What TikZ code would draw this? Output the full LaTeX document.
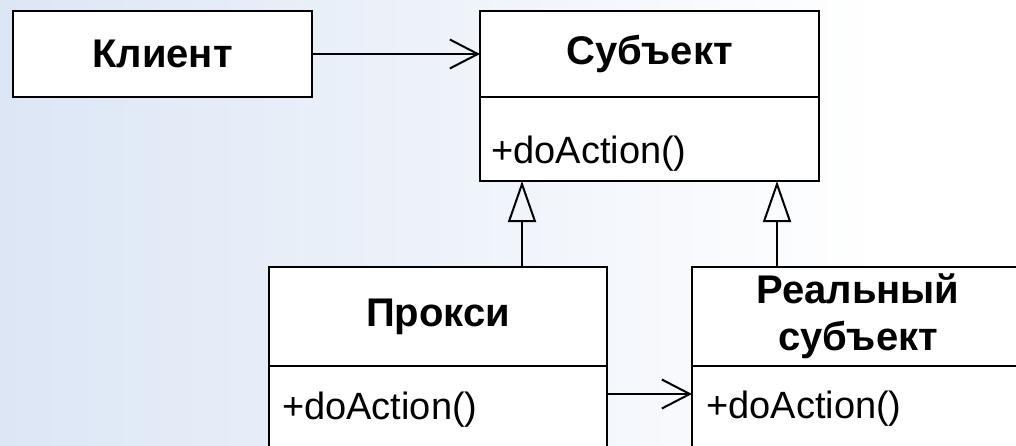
\documentclass[tikz,border=0pt]{standalone}
\usepackage{fontspec}
\setmainfont{Liberation Sans}
\usetikzlibrary{arrows.meta}
\definecolor{bgblue}{HTML}{DCE6F5}
\tikzset{
  box/.style={draw=black, line width=2pt, fill=white, inner sep=0pt, outer sep=0pt, anchor=north west},
  title/.style={font=\fontsize{40}{49}\selectfont\bfseries, align=center},
  oper/.style={font=\fontsize{38}{42}\selectfont, anchor=base west, inner sep=0pt},
  assoc/.style={line width=2pt, -{Straight Barb[length=28pt,width=29pt,line width=2pt]}},
  gen/.style={line width=2pt, -{Triangle[open,length=41pt,width=28pt,line width=2pt]}}
}
\begin{document}
\begin{tikzpicture}[x=1pt,y=-1pt]
\useasboundingbox (0,0) rectangle (1016,445);
\begin{scope}
\clip (0,0) rectangle (1016,445);
\shade[left color=bgblue, right color=white] (0,0) rectangle (880,445);
\fill[white] (880,0) rectangle (1016,445);

% Client
\node[box, title, minimum width=299pt, minimum height=86pt] (client) at (13,11) {Клиент};

% Subject
\node[box, title, minimum width=339pt, minimum height=86pt] (subjhead) at (480,11) {Субъект};
\node[box, minimum width=339pt, minimum height=84pt] (subjbody) at (480,97) {};
\node[oper] (subjop) at (491,163) {+doAction()};

% Proxy
\node[box, title, minimum width=338pt, minimum height=99pt] (proxyhead) at (269,267) {Прокси};
\node[box, minimum width=338pt, minimum height=100pt] (proxybody) at (269,366) {};
\node[oper] (proxyop) at (282,419) {+doAction()};

% Real subject
\node[box, title, minimum width=332pt, minimum height=99pt] (realhead) at (692,267) {Реальный\\[-2pt]субъект};
\node[box, minimum width=332pt, minimum height=100pt] (realbody) at (692,366) {};
\node[oper] (realop) at (706,418) {+doAction()};

% helper coordinates
\coordinate (gx1) at (522,0);
\coordinate (gx2) at (777,0);
\coordinate (ay) at (0,394);

% connectors
\draw[assoc] (client.east) -- (subjhead.west);
\draw[gen] (proxyhead.north -| gx1) -- (subjbody.south -| gx1);
\draw[gen] (realhead.north -| gx2) -- (subjbody.south -| gx2);
\draw[assoc] (proxybody.east |- ay) -- (realbody.west |- ay);
\end{scope}
\end{tikzpicture}
\end{document}
